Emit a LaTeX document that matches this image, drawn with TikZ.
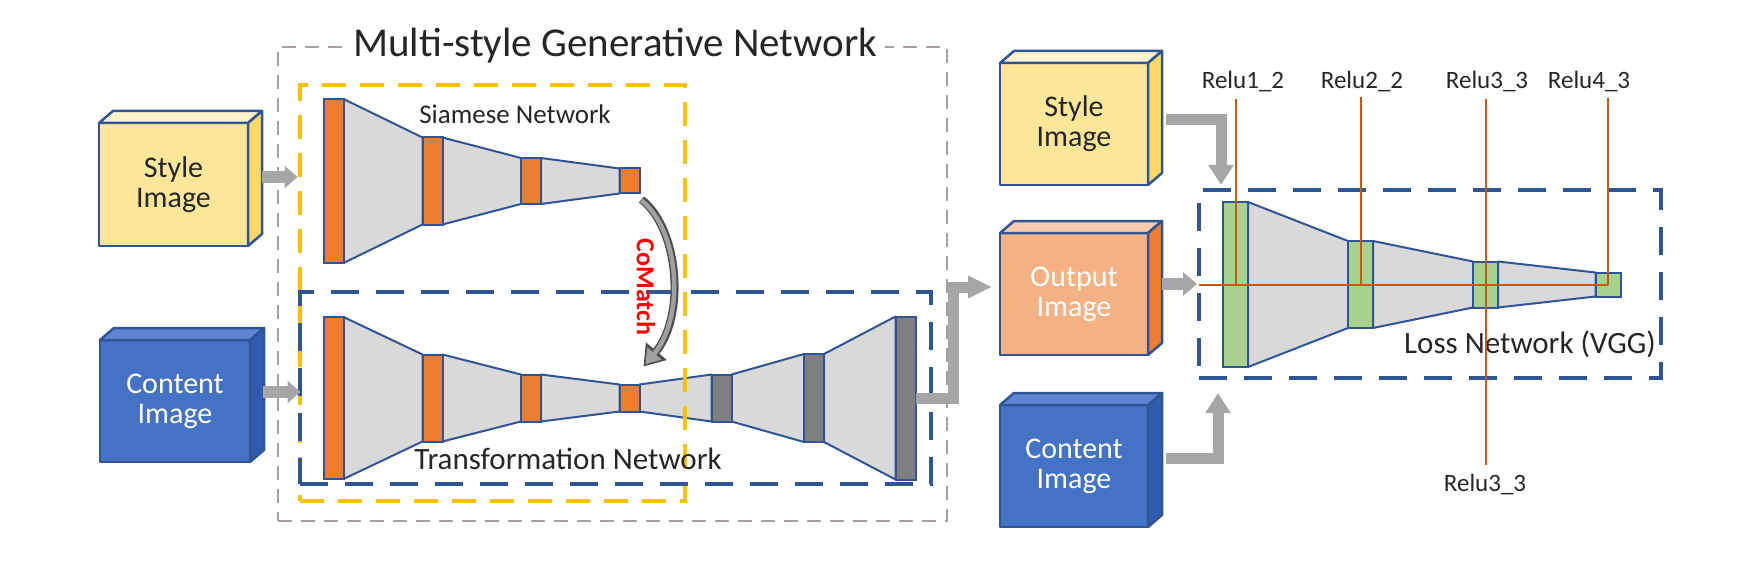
\documentclass[tikz,border=0pt]{standalone}
\usepackage{fontspec}
\setmainfont{Carlito}
\usetikzlibrary{arrows.meta,calc,backgrounds}
\definecolor{bord}{HTML}{2F5597}
\definecolor{yelf}{HTML}{FFE699}
\definecolor{yelt}{HTML}{FFF2CC}
\definecolor{yels}{HTML}{FFD966}
\definecolor{bluf}{HTML}{4472C4}
\definecolor{blut}{HTML}{5B87D2}
\definecolor{blus}{HTML}{2F5CAE}
\definecolor{outf}{HTML}{F4B183}
\definecolor{outt}{HTML}{F8CBAD}
\definecolor{outs}{HTML}{ED7D31}
\definecolor{orn}{HTML}{ED7D31}
\definecolor{dgray}{HTML}{7F7F7F}
\definecolor{grn}{HTML}{A9D18E}
\definecolor{trapg}{HTML}{D9D9D9}
\definecolor{gdashc}{HTML}{A89F98}
\definecolor{ydashc}{HTML}{FFC000}
\definecolor{arrg}{HTML}{A6A6A6}
\definecolor{reluc}{HTML}{C55A11}
\definecolor{txt}{HTML}{262626}
\definecolor{comdark}{HTML}{4D4D4D}
\definecolor{comlight}{HTML}{A0A0A0}
\newcommand\fBox{\fontsize{30}{30}\selectfont}
\newcommand\fTitle{\fontsize{41}{44}\selectfont}
\newcommand\fSiam{\fontsize{27}{30}\selectfont}
\newcommand\fNet{\fontsize{31}{34}\selectfont}
\newcommand\fRelu{\fontsize{25}{27}\selectfont}
\newcommand\fCo{\fontsize{26}{28}\selectfont}
\newcommand\boxfaces[3]{%
  \draw[side, fill=#2] (#1.north west) -- ++(14,-12) -- ($(#1.north east)+(14,-12)$) -- (#1.north east) -- cycle;
  \draw[side, fill=#3] (#1.north east) -- ++(14,-12) -- ($(#1.south east)+(14,-12)$) -- (#1.south east) -- cycle;}
\begin{document}
\begin{tikzpicture}[x=1pt,y=-1pt,
  lay/.style={draw=bord, line width=2pt, inner sep=0pt, outer sep=0pt, minimum width=20pt},
  glay/.style={lay, fill=grn, minimum width=25pt},
  trap/.style={draw=bord, line width=2pt, fill=trapg, line join=round},
  face/.style={draw=bord, line width=2.5pt, inner sep=0pt, outer sep=0pt, align=center, font=\fBox, text=txt, line join=round, minimum width=149pt, minimum height=122pt},
  side/.style={draw=bord, line width=2.5pt, line join=round},
  gdash/.style={draw=gdashc, line width=1.8pt, dash pattern=on 14pt off 9pt, inner sep=0pt, outer sep=0pt},
  ydash/.style={draw=ydashc, line width=3.5pt, dash pattern=on 24pt off 14pt, inner sep=0pt, outer sep=0pt},
  bdash/.style={draw=bord, line width=3.5pt, dash pattern=on 28pt off 17pt, inner sep=0pt, outer sep=0pt},
  garrowL/.style={draw=arrg, line width=12pt, -{Triangle[length=13pt,width=22pt]}},
  garrowR/.style={draw=arrg, line width=11pt, line join=miter, -{Triangle[length=20pt,width=24pt]}},
  garrowO/.style={draw=arrg, line width=11pt, line join=miter, -{Triangle[length=24pt,width=21pt]}},
  garrowS/.style={draw=arrg, line width=12pt, -{Triangle[length=14pt,width=23pt]}},
  relu/.style={draw=reluc, line width=2pt},
  lab/.style={font=\fRelu, text=txt, inner sep=2pt, anchor=base},
  net/.style={font=\fNet, text=txt, inner sep=0pt, anchor=base},
]
\useasboundingbox (0,0) rectangle (1758,572);

% ---------- dashed frames ----------
\node[gdash, minimum width=669pt, minimum height=474pt] (gen) at (612.5,284) {};
\node[fill=white, inner xsep=8pt, inner ysep=2pt, anchor=base west, font=\fTitle, text=txt] (title) at (345,57) {Multi-style Generative Network};
\node[ydash, minimum width=385pt, minimum height=416pt] (siam) at (492.5,293) {};
\node[bdash, minimum width=631pt, minimum height=192pt] (trans) at (615.5,388) {};
\node[bdash, minimum width=462pt, minimum height=188pt] (loss) at (1430,284) {};

% ---------- left input boxes ----------
\node[face, fill=yelf, minimum width=149pt, minimum height=123pt] (sL) at (173.5,184.5) {Style\\Image};
\boxfaces{sL}{yelt}{yels}
\node[face, fill=bluf, text=white, minimum width=150pt] (cL) at (175,401) {Content\\Image};
\boxfaces{cL}{blut}{blus}

% ---------- Siamese network ----------
\node[lay, fill=orn, minimum height=164pt] (s1) at (333.5,181) {};
\node[lay, fill=orn, minimum height=87pt] (s2) at (432.5,181) {};
\node[lay, fill=orn, minimum height=46pt] (s3) at (531,181) {};
\node[lay, fill=orn, minimum height=25pt] (s4) at (629.5,181) {};
\node[net, font=\fSiam] (siamlab) at (515,124) {Siamese Network};

% ---------- Transformation network ----------
\node[lay, fill=orn, minimum height=162pt] (t1) at (333.5,398) {};
\node[lay, fill=orn, minimum height=87pt] (t2) at (432.5,398) {};
\node[lay, fill=orn, minimum height=47pt] (t3) at (531,398) {};
\node[lay, fill=orn, minimum height=27pt] (t4) at (629.5,398) {};
\node[lay, fill=dgray, minimum height=47pt] (t5) at (721.5,398) {};
\node[lay, fill=dgray, minimum height=88pt] (t6) at (814,398) {};
\node[lay, fill=dgray, minimum height=163pt] (t7) at (905.5,398) {};
\node[net] (translab) at (568,469) {Transformation Network};

% ---------- right boxes ----------
\node[face, fill=yelf, minimum width=148pt] (sR) at (1074,124) {Style\\Image};
\boxfaces{sR}{yelt}{yels}
\node[face, fill=outf, text=white, minimum width=148pt] (oR) at (1074,294) {Output\\Image};
\boxfaces{oR}{outt}{outs}
\node[face, fill=bluf, text=white, minimum width=148pt] (cR) at (1074,466) {Content\\Image};
\boxfaces{cR}{blut}{blus}

% ---------- Loss network ----------
\node[glay, minimum height=165pt] (g1) at (1235.5,284.5) {};
\node[glay, minimum height=87pt] (g2) at (1360.5,284.5) {};
\node[glay, minimum height=46pt] (g3) at (1485.5,284.5) {};
\node[glay, minimum height=24pt] (g4) at (1608,284.5) {};
\node[net, anchor=base west] (losslab) at (1404,353) {Loss Network (VGG)};

% ---------- trapezoids (behind) ----------
\begin{pgfonlayer}{background}
\foreach \a/\b in {s1/s2,s2/s3,s3/s4,t1/t2,t2/t3,t3/t4,t4/t5,t5/t6,t6/t7,g1/g2,g2/g3,g3/g4}{
  \draw[trap] (\a.north east) -- (\b.north west) -- (\b.south west) -- (\a.south east) -- cycle;
}
\end{pgfonlayer}

% ---------- Relu taps ----------
\node[lab] (r1) at (1243,89) {Relu1\_2};
\node[lab] (r2) at (1362,89) {Relu2\_2};
\node[lab] (r3) at (1487,89) {Relu3\_3};
\node[lab] (r4) at (1589,89) {Relu4\_3};
\node[lab] (r3b) at (1485,491) {Relu3\_3};
\draw[relu] (loss.west |- g1.center) -- (g4.center);
\draw[relu, shorten <=4pt] (g1.center |- r1.south) -- (g1.center);
\draw[relu, shorten <=2pt] (g2.center |- r2.south) -- (g2.center);
\draw[relu, shorten <=4pt, shorten >=6pt] (g3.center |- r3.south) -- (g3.center |- r3b.north);
\draw[relu, shorten <=3pt] (g4.center |- r4.south) -- (g4.center);

% ---------- gray arrows ----------
\draw[garrowL] ($(sL.east)+(14,-7.5)$) -- ($(s1.west)+(-26,-4)$);
\draw[garrowL] ($(cL.east)+(13,-9)$) -- ($(t1.west)+(-23,-6)$);
\draw[garrowO] (t7.east) -- ++(38,0) |- ($(oR.west)+(-8,-7)$);
\draw[garrowR] ($(sR.east)+(18,-4)$) -| ($(loss.north west)+(22,-5)$);
\draw[garrowR] ($(cR.east)+(18,-8)$) -| ($(loss.south west)+(19,15)$);
\draw[garrowS] ($(oR.east)+(14,-10)$) -- ($(loss.west)+(-2,0)$);

% ---------- CoMatch ----------
\draw[line width=8pt, draw=comdark, -{Triangle[length=20pt,width=26pt]}] ($(s4.south east)+(2,6)$) .. controls +(38,30) and +(42,-50) .. ($(t4.north east)+(4,-18)$);
\draw[line width=4.5pt, draw=comlight, shorten >=3pt, -{Triangle[length=14pt,width=18pt]}] ($(s4.south east)+(2,7)$) .. controls +(38,30) and +(42,-50) .. ($(t4.north east)+(4,-18)$);
\node[rotate=-90, text=red, font=\fCo\bfseries, inner sep=0pt] (cm) at (646,287) {CoMatch};
\end{tikzpicture}
\end{document}
